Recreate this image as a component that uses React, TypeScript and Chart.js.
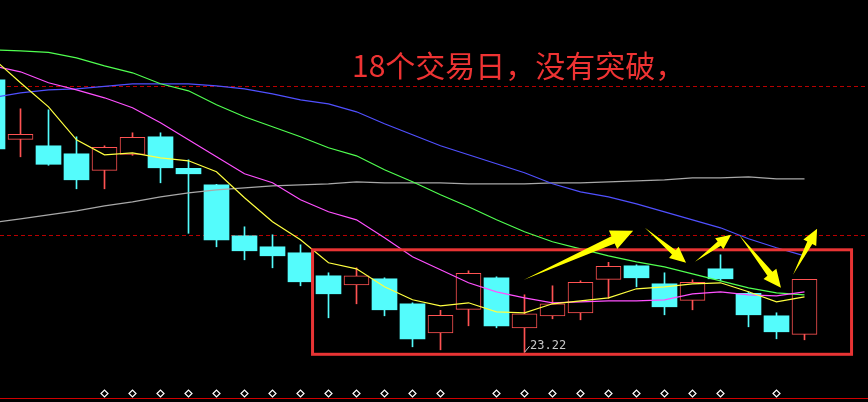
import React, { useEffect, useRef } from "react";
import { Chart, registerables } from "chart.js";

Chart.register(...registerables);

// ---- data (day index 0..29) ----
const days = [0, 1, 2, 3, 4, 5, 6, 7, 8, 9, 10, 11, 12, 13, 14, 15, 16, 17, 18, 19, 20, 21, 22, 23, 24, 25, 26, 27, 28, 29];
const opens = [28.67, 27.48, 27.35, 27.19, 26.86, 27.18, 27.53, 26.90, 26.57, 25.55, 25.33, 25.21, 24.75, 24.57, 24.69, 24.19, 23.61, 24.08, 24.71, 23.71, 23.95, 24.01, 24.68, 24.95, 24.59, 24.26, 24.89, 24.40, 23.95, 23.58];
const highs = [28.77, 28.09, 28.07, 27.53, 27.35, 27.61, 27.61, 27.07, 26.58, 25.73, 25.57, 25.37, 24.81, 24.91, 24.71, 24.21, 24.06, 24.85, 24.73, 24.37, 24.55, 24.65, 25.02, 24.97, 24.81, 24.67, 25.17, 24.43, 24.01, 24.68];
const lows = [27.23, 27.13, 26.96, 26.49, 26.49, 27.16, 26.61, 25.60, 25.33, 25.07, 24.91, 24.55, 23.91, 24.19, 23.95, 23.33, 23.27, 23.75, 23.71, 23.22, 23.89, 23.87, 24.30, 24.53, 23.97, 24.07, 24.65, 23.73, 23.49, 23.47];
const closes = [27.29, 27.58, 26.98, 26.67, 27.32, 27.52, 26.91, 26.79, 25.47, 25.25, 25.15, 24.63, 24.39, 24.75, 24.07, 23.49, 23.96, 24.80, 23.75, 23.99, 24.19, 24.62, 24.94, 24.71, 24.13, 24.62, 24.69, 23.97, 23.63, 24.68];

const ma5 = [29.11, 28.61, 28.13, 27.47, 27.17, 27.21, 27.11, 27.05, 26.83, 26.31, 25.83, 25.47, 25.01, 24.89, 24.53, 24.27, 24.15, 24.21, 24.03, 24.01, 24.19, 24.25, 24.31, 24.49, 24.53, 24.59, 24.61, 24.43, 24.23, 24.33];
const ma10 = [28.95, 28.83, 28.61, 28.47, 28.31, 28.11, 27.81, 27.47, 27.13, 26.79, 26.61, 26.27, 26.03, 25.87, 25.51, 25.13, 24.87, 24.61, 24.43, 24.31, 24.21, 24.23, 24.25, 24.25, 24.27, 24.39, 24.43, 24.37, 24.35, 24.43];
const ma20 = [29.27, 29.25, 29.22, 29.11, 28.95, 28.81, 28.59, 28.45, 28.17, 27.93, 27.73, 27.53, 27.31, 27.15, 26.87, 26.63, 26.37, 26.13, 25.87, 25.63, 25.43, 25.29, 25.15, 25.03, 24.93, 24.79, 24.65, 24.51, 24.41, 24.37];
const ma30 = [28.31, 28.41, 28.47, 28.49, 28.54, 28.59, 28.59, 28.59, 28.55, 28.49, 28.39, 28.27, 28.19, 28.03, 27.79, 27.57, 27.35, 27.17, 26.99, 26.81, 26.59, 26.43, 26.33, 26.19, 26.03, 25.87, 25.71, 25.49, 25.31, 25.15];
const ma60 = [25.81, 25.89, 25.97, 26.05, 26.15, 26.23, 26.33, 26.41, 26.47, 26.51, 26.55, 26.57, 26.59, 26.63, 26.61, 26.61, 26.61, 26.59, 26.59, 26.59, 26.61, 26.61, 26.63, 26.65, 26.67, 26.71, 26.71, 26.73, 26.69, 26.69];

const signalDays = [4, 5, 6, 7, 8, 9, 10, 11, 12, 13, 14, 15, 16, 18, 19, 20, 21, 22, 23, 24, 25, 26, 28];
const signalLevel = 22.396;
const dashedLevels = [28.536, 25.556];
const baseLevel = 22.296;

const noteText = "18个交易日，没有突破，";
const notePos = [12.84, 28.73];
const boxDays = [11.43, 30.68];
const boxPrices = [23.18, 25.27];
const lowLabelDay = 19;
const arrowTails = [
  [18.98, 24.67],
  [23.3, 25.71],
  [25.09, 25.03],
  [26.66, 25.57],
  [28.59, 24.77],
];
const arrowHeads = [
  [22.88, 25.65],
  [24.77, 25.01],
  [26.38, 25.57],
  [28.16, 24.51],
  [29.45, 25.69],
];

const X_MIN = 0.267857;
const X_MAX = 31.267857;
const Y_MIN = 22.226;
const Y_MAX = 30.266;

const CYAN = "#54FCFC";
const RED = "#FF5252";

const annotPlugin = {
  id: "annot",
  afterDatasetsDraw(chart: any) {
    const ctx = chart.ctx as CanvasRenderingContext2D;
    const xs = chart.scales.x;
    const ys = chart.scales.y;
    const px = (v: number) => xs.getPixelForValue(v);
    const py = (v: number) => ys.getPixelForValue(v);
    ctx.save();

    // note text
    ctx.fillStyle = "#EE3333";
    ctx.font = '30px "Noto Sans CJK SC"';
    ctx.textBaseline = "alphabetic";
    ctx.textAlign = "left";
    ctx.fillText(noteText, px(notePos[0]), py(notePos[1]));

    // box
    ctx.strokeStyle = "#E83434";
    ctx.lineWidth = 3;
    const x0 = px(boxDays[0]);
    const x1 = px(boxDays[1]);
    const y0 = py(boxPrices[1]);
    const y1 = py(boxPrices[0]);
    ctx.strokeRect(x0, y0, x1 - x0, y1 - y0);

    // low label
    const lx = px(days[lowLabelDay]);
    const ly = py(lows[lowLabelDay]);
    ctx.strokeStyle = "#C8C8C8";
    ctx.lineWidth = 1;
    ctx.beginPath();
    ctx.moveTo(lx, ly);
    ctx.lineTo(lx + 5, ly - 6);
    ctx.stroke();
    ctx.fillStyle = "#C8C8C8";
    ctx.font = '12px "DejaVu Sans Mono"';
    ctx.fillText(lows[lowLabelDay].toFixed(2), lx + 5.5, ly - 3.3);

    // arrows
    ctx.fillStyle = "#FFFF00";
    arrowTails.forEach((t, i) => {
      const h = arrowHeads[i];
      const tx = px(t[0]), ty = py(t[1]);
      const hx = px(h[0]), hy = py(h[1]);
      const dx = hx - tx, dy = hy - ty;
      const len = Math.hypot(dx, dy);
      const ux = dx / len, uy = dy / len;
      const nx = -uy, ny = ux;
      const L = Math.min(22, 9 + 0.13 * len);
      const W = L * 0.46;
      const S = L * 0.18;
      const bx = hx - L * ux, by = hy - L * uy;
      ctx.beginPath();
      ctx.moveTo(tx, ty);
      ctx.lineTo(bx + S * nx, by + S * ny);
      ctx.lineTo(bx + W * nx, by + W * ny);
      ctx.lineTo(hx, hy);
      ctx.lineTo(bx - W * nx, by - W * ny);
      ctx.lineTo(bx - S * nx, by - S * ny);
      ctx.closePath();
      ctx.fill();
    });

    ctx.restore();
  },
};

export default function App() {
  const ref = useRef<HTMLCanvasElement>(null);

  useEffect(() => {
    document.body.style.margin = "0";
    document.body.style.background = "#000";
    const canvas = ref.current!;
    const up = closes.map((c, i) => c >= opens[i]);

    const line = (data: number[], color: string, order: number) => ({
      type: "line" as const,
      data: days.map((d, i) => ({ x: d, y: data[i] })),
      borderColor: color,
      borderWidth: 1.2,
      pointRadius: 0,
      tension: 0,
      order,
    });

    const hline = (level: number, color: string, dash: number[]) => ({
      type: "line" as const,
      data: [
        { x: X_MIN - 1, y: level },
        { x: X_MAX + 1, y: level },
      ],
      borderColor: color,
      borderWidth: 1,
      borderDash: dash,
      pointRadius: 0,
      order: 10,
    });

    const chart = new Chart(canvas, {
      type: "bar",
      data: {
        datasets: [
          hline(dashedLevels[0], "#B80000", [4, 3]),
          hline(dashedLevels[1], "#B80000", [4, 3]),
          hline(baseLevel, "#D00000", []),
          {
            type: "bar",
            data: days.map((d, i) => ({ x: d, y: [lows[i], highs[i]] })),
            backgroundColor: up.map((u) => (u ? RED : CYAN)),
            borderWidth: 0,
            barThickness: 1,
            grouped: false,
            order: 9,
          } as any,
          {
            type: "bar",
            data: days.map((d, i) => ({ x: d, y: [opens[i], closes[i]] })),
            backgroundColor: up.map((u) => (u ? "#000000" : CYAN)),
            borderColor: up.map((u) => (u ? RED : CYAN)),
            borderWidth: up.map((u) => (u ? 1 : 0)),
            borderSkipped: false,
            barThickness: 25,
            grouped: false,
            order: 8,
          } as any,
          line(ma60, "#A8A8A8", 7),
          line(ma30, "#5050FF", 6),
          line(ma20, "#50FF50", 5),
          line(ma10, "#FF50FF", 4),
          line(ma5, "#FFFF40", 3),
          {
            type: "scatter",
            data: signalDays.map((d) => ({ x: d, y: signalLevel })),
            pointStyle: "rectRot",
            pointRadius: 3.5,
            borderColor: "#FFFFFF",
            backgroundColor: "#000000",
            borderWidth: 1.2,
            order: 2,
          } as any,
        ],
      },
      options: {
        animation: false,
        responsive: false,
        maintainAspectRatio: false,
        events: [],
        layout: { padding: 0, autoPadding: false } as any,
        plugins: {
          legend: { display: false },
          tooltip: { enabled: false },
          title: { display: false },
        },
        scales: {
          x: {
            type: "linear",
            min: X_MIN,
            max: X_MAX,
            offset: false,
            display: false,
          },
          y: {
            type: "linear",
            min: Y_MIN,
            max: Y_MAX,
            display: false,
          },
        },
      },
      plugins: [annotPlugin],
    });

    return () => chart.destroy();
  }, []);

  return (
    <canvas
      ref={ref}
      width={868}
      height={402}
      style={{
        position: "fixed",
        left: 0,
        top: 0,
        width: 868,
        height: 402,
        display: "block",
        background: "#000",
      }}
    />
  );
}
